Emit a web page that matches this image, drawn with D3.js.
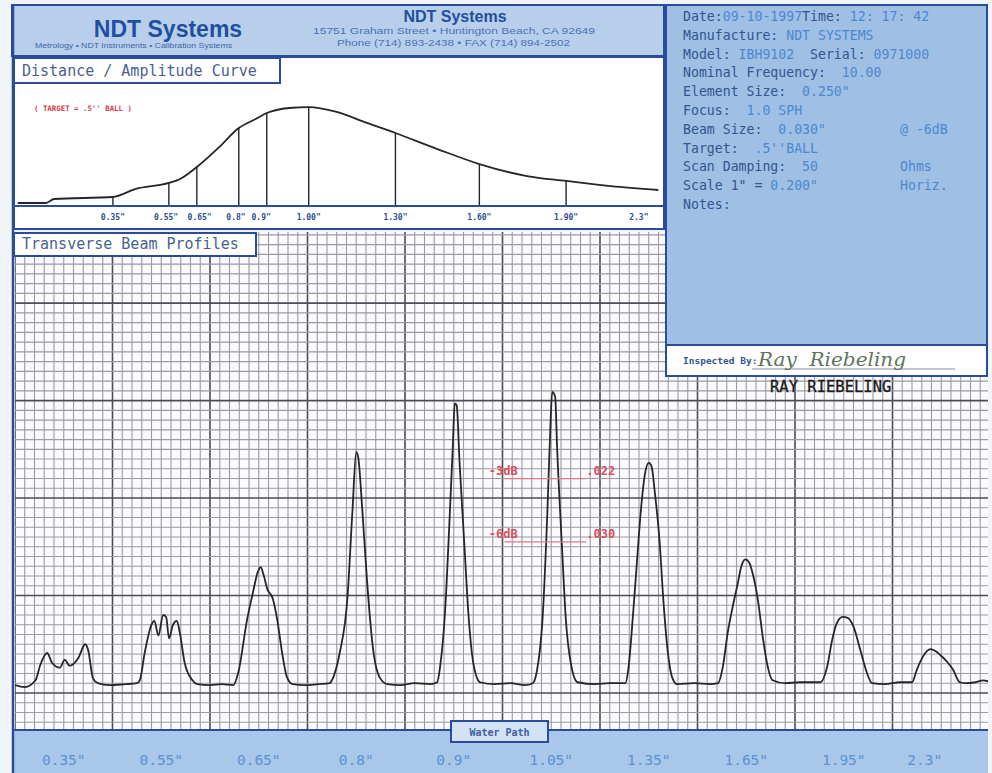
<!DOCTYPE html>
<html>
<head>
<meta charset="utf-8">
<script src="https://cdn.jsdelivr.net/npm/d3@7"></script>
<style>
  body { margin: 0; background: #f1f4f8; }
  svg { display: block; }
  text { white-space: pre; }
</style>
</head>
<body>
<svg id="chart"></svg>
<script>
// ---- data ----

// distance / amplitude curve: [water path (in), amplitude (%)]
var dacCurve = [[0.01,1.9],[0.11,1.9],[0.14,5.7],[0.35,7.6],[0.43,15.2],[0.55,21],[0.59,24.8],
  [0.65,36.2],[0.73,55.2],[0.80,73.3],[0.86,81.9],[0.90,87.6],[0.98,92.4],[1.05,93.3],[1.15,88.6],
  [1.25,79],[1.36,68.6],[1.51,53.3],[1.66,39],[1.83,27.6],[1.97,22.9],[2.13,18],[2.30,14.3]];
var dacMarkers = [0.35, 0.55, 0.65, 0.80, 0.90, 1.05, 1.36, 1.66, 1.97];
var dacMarkerAmp = [7.6, 21, 36.2, 73.3, 87.6, 93.3, 68.6, 39, 22.9];
var dacLabels = ['0.35"', '0.55"', '0.65"', '0.8"', '0.9"', '1.00"', '1.30"', '1.60"', '1.90"', '2.3"'];
var dacLabelPos = [0.35, 0.54, 0.66, 0.79, 0.88, 1.05, 1.36, 1.66, 1.97, 2.23];

// transverse beam profiles: [scan position (grid div), amplitude (grid div)]
var p035 = [[0,0.8],[1,0.6],[2.1,1.3],[2.6,2.9],[3.3,4.1],[3.8,3.1],[4.6,2.6],[5.1,3.4],[5.6,2.8],
  [6.5,3.6],[7.2,5.0],[7.5,4.4],[8,1.5],[8.5,1.0],[9.7,0.8],[11.3,0.9],[12.5,1.0]];
var p055 = [[12.8,1.3],[13.3,4.1],[14.0,7.0],[14.3,7.4],[14.7,5.9],[15.2,8.0],[15.5,7.8],[15.8,5.6],
  [16.2,7.0],[16.6,7.4],[16.9,6.2],[17.4,3.1],[18.2,1.3],[18.7,0.9],[20,0.8],[21.2,0.9],[22.4,0.8]];
var p065 = [[22.9,2.1],[23.8,7.5],[24.4,10.3],[24.9,12.4],[25.2,12.9],[25.5,12.1],[25.9,10.6],
  [26.4,9.8],[26.9,7.5],[27.4,4.1],[27.9,1.6],[28.5,0.9],[29.7,0.8],[31.1,0.9],[32.3,1.0]];
var p080 = [[32.5,1.3],[33.3,4.1],[34.1,9.8],[34.6,18.5],[35,24.7],[35.2,24.2],[35.6,19.1],[36.1,11.6],
  [36.7,4.7],[37.4,1.6],[38.2,0.9],[39.5,0.8],[41,1.0],[42.6,0.9],[43.3,1.1]];
var p090 = [[43.6,2.7],[44.1,8.2],[44.6,18.5],[44.9,25.2],[45.1,29.7],[45.3,29.5],[45.6,23.6],
  [46.1,15.0],[46.5,8.2],[47,3.1],[47.7,1.1],[49.2,0.9],[50.8,1.0],[52.3,0.8],[53.1,1.0]];
var p105 = [[53.5,2.1],[54.1,7.5],[54.6,18.5],[54.9,27.0],[55.1,30.9],[55.4,30.4],[55.6,25.2],
  [56.1,15.0],[56.5,7.5],[57,3.1],[57.7,1.1],[59.5,0.9],[61,1.0],[62.6,1.0]];
var p135 = [[62.9,2.4],[63.4,8.2],[63.8,13.6],[64.2,18.8],[64.6,22.4],[65,23.6],[65.3,23.2],[65.6,20.8],
  [66.1,15.7],[66.5,9.5],[66.9,4.7],[67.4,1.6],[67.9,0.9],[69.7,1.0],[71.3,0.9],[72.1,1.0]];
var p165 = [[72.6,2.7],[73.1,6.2],[73.6,8.8],[74.1,11.1],[74.5,13.0],[74.9,13.7],[75.3,13.4],[75.7,12.1],
  [76.2,9.5],[76.7,5.7],[77.2,2.7],[77.7,1.3],[79,1.0],[80.5,1.1],[82.6,1.1]];
var p195 = [[83.3,2.7],[83.8,5.4],[84.3,7.2],[84.9,7.8],[85.4,7.7],[86,6.8],[86.7,4.4],[87.4,2.0],
  [87.9,1.0],[89.2,0.9],[90.8,1.1],[92,1.1]];
var p230 = [[92.5,2.4],[93.1,3.7],[93.9,4.5],[94.4,4.3],[94.9,3.9],[95.6,3.2],[96.2,2.4],[96.9,1.1],
  [97.6,1.0],[98.5,1.1],[99.3,1.3],[99.8,1.2]];

var waterPaths = ['0.35"', '0.55"', '0.65"', '0.8"', '0.9"', '1.05"', '1.35"', '1.65"', '1.95"', '2.3"'];
var waterPathPos = [5, 15, 25, 35, 45, 55, 65, 75, 85, 93.3];

// -3dB / -6dB width marks on the 1.05" profile
var widthLevels = [22.0, 15.5];
var widthLevelNames = ["-3dB", "-6dB"];
var widthValues = [".022", ".030"];

// report header block
var infoLabels = ["Date:", "Manufacture: ", "Model: ", "Nominal Frequency: ", "Element Size: ", "Focus: ",
  "Beam Size: ", "Target: ", "Scan Damping: ", "Scale 1\" = ", "Notes:"];
var infoValues = ["09-10-1997", "NDT SYSTEMS", "IBH9102", " 10.00", " 0.250\"", " 1.0 SPH",
  " 0.030\"", " .5''BALL", " 50", "0.200\"", ""];
var infoMidLabels = ["Time:", "", "  Serial: ", "", "", "", "", "", "", "", ""];
var infoMidValues = [" 12: 17: 42", "", "0971000", "", "", "", "", "", "", "", ""];
var infoUnits = ["", "", "", "", "", "", "@ -6dB", "", "Ohms", "Horiz.", ""];

// ---- drawing ----
var W = 992, H = 773,
    blue = "#2b4c9c",
    mono = "'DejaVu Sans Mono', monospace",
    sans = "'Liberation Sans', Arial, sans-serif";

var svg = d3.select("#chart").attr("width", W).attr("height", H);

// beam profile chart paper
var gx = d3.scaleLinear().domain([0, 100]).range([15, 990]),
    gy = d3.scaleLinear().domain([-3.8, 47.3]).range([730, 232]);

svg.append("clipPath").attr("id", "paper")
  .append("rect").attr("x", 15).attr("y", 232).attr("width", 973).attr("height", 498);

var paper = svg.append("g").attr("clip-path", "url(#paper)");
paper.append("rect").attr("x", 15).attr("y", 232).attr("width", 973).attr("height", 498).attr("fill", "#fbfbfd");

var minorX = d3.range(0, 101), minorY = d3.range(-3, 48);
paper.selectAll(".vminor").data(minorX).enter().append("line")
    .attr("x1", gx).attr("x2", gx).attr("y1", 232).attr("y2", 730)
    .attr("stroke", function(d) { return d % 10 === 0 ? "#4c4d57" : "#9a9ba3"; })
    .attr("stroke-width", function(d) { return d % 10 === 0 ? 1.6 : 1.1; });
paper.selectAll(".hminor").data(minorY).enter().append("line")
    .attr("y1", gy).attr("y2", gy).attr("x1", 15).attr("x2", 990)
    .attr("stroke", function(d) { return d % 10 === 0 ? "#4c4d57" : "#9a9ba3"; })
    .attr("stroke-width", function(d) { return d % 10 === 0 ? 1.6 : 1.1; });

var trace = [].concat(p035, p055, p065, p080, p090, p105, p135, p165, p195, p230);
var traceLine = d3.line()
    .x(function(d) { return gx(d[0]); })
    .y(function(d) { return gy(d[1]); })
    .curve(d3.curveMonotoneX);
paper.append("path").datum(trace)
    .attr("d", traceLine)
    .attr("fill", "none").attr("stroke", "#262626").attr("stroke-width", 1.8)
    .attr("stroke-linejoin", "round");

// red beam-width marks
widthLevels.forEach(function(lv, i) {
  var y = gy(lv);
  paper.append("line")
      .attr("x1", gx(50.2)).attr("x2", gx(58.6)).attr("y1", y).attr("y2", y)
      .attr("stroke", "#e07a85").attr("stroke-width", 1.3);
  paper.append("text").attr("x", gx(48.6)).attr("y", y - 4)
      .attr("font-family", mono).attr("font-size", 12).attr("font-weight", "bold").attr("fill", "#d9505e")
      .text(widthLevelNames[i]);
  paper.append("text").attr("x", gx(58.6)).attr("y", y - 4)
      .attr("font-family", mono).attr("font-size", 12).attr("font-weight", "bold").attr("fill", "#d9505e")
      .text(widthValues[i]);
});

// bottom water-path band
svg.append("rect").attr("x", 12).attr("y", 730).attr("width", 976).attr("height", 43).attr("fill", "#a9c7e9");
svg.append("line").attr("x1", 12).attr("x2", 988).attr("y1", 730).attr("y2", 730)
    .attr("stroke", blue).attr("stroke-width", 2);
svg.selectAll(".wp").data(waterPaths).enter().append("text")
    .attr("x", function(d, i) { return gx(waterPathPos[i]); })
    .attr("y", 765)
    .attr("text-anchor", "middle")
    .attr("font-family", mono).attr("font-size", 14.5).attr("fill", "#5a92d3")
    .text(function(d) { return d; });
svg.append("rect").attr("x", 451).attr("y", 721).attr("width", 97).attr("height", 21)
    .attr("fill", "#d3e3f4").attr("stroke", blue).attr("stroke-width", 2);
svg.append("text").attr("x", 499.5).attr("y", 735.5).attr("text-anchor", "middle")
    .attr("font-family", mono).attr("font-size", 10).attr("font-weight", "bold").attr("fill", "#3d60a6")
    .text("Water Path");

// header band
svg.append("rect").attr("x", 12).attr("y", 5).attr("width", 652).attr("height", 51)
    .attr("fill", "#b7cfeb").attr("stroke", blue).attr("stroke-width", 2);
svg.append("text").attr("x", 168).attr("y", 37).attr("text-anchor", "middle")
    .attr("font-family", sans).attr("font-weight", "bold")
    .attr("font-size", 23).attr("fill", "#1f4f9f").text("NDT Systems");
svg.append("text").attr("x", 35).attr("y", 48)
    .attr("font-family", sans).attr("font-size", 6.8)
    .attr("textLength", 197).attr("lengthAdjust", "spacingAndGlyphs")
    .attr("fill", "#3f66ad").text("Metrology • NDT Instruments • Calibration Systems");
svg.append("text").attr("x", 455).attr("y", 22).attr("text-anchor", "middle")
    .attr("font-family", sans).attr("font-weight", "bold")
    .attr("font-size", 16).attr("fill", "#1f4f9f").text("NDT Systems");
svg.append("text").attr("x", 313).attr("y", 34)
    .attr("font-family", sans).attr("font-size", 8.5)
    .attr("textLength", 282).attr("lengthAdjust", "spacingAndGlyphs")
    .attr("fill", "#4b72b6").text("15751 Graham Street • Huntington Beach, CA 92649");
svg.append("text").attr("x", 337).attr("y", 46)
    .attr("font-family", sans).attr("font-size", 8.5)
    .attr("textLength", 233).attr("lengthAdjust", "spacingAndGlyphs")
    .attr("fill", "#4b72b6").text("Phone (714) 893-2438 • FAX (714) 894-2502");

// distance / amplitude curve panel
var dacX = d3.scaleLinear().domain([0, 2.32]).range([15, 664]),
    dacY = d3.scaleLinear().domain([0, 100]).range([205, 100]);

svg.append("rect").attr("x", 14).attr("y", 57).attr("width", 650).attr("height", 172)
    .attr("fill", "#ffffff").attr("stroke", blue).attr("stroke-width", 2);
svg.append("line").attr("x1", 14).attr("x2", 664).attr("y1", dacY(0) + 1).attr("y2", dacY(0) + 1)
    .attr("stroke", blue).attr("stroke-width", 2);

svg.append("path").datum(dacCurve)
    .attr("d", d3.line()
      .x(function(d) { return dacX(d[0]); })
      .y(function(d) { return dacY(d[1]); })
      .curve(d3.curveMonotoneX))
    .attr("fill", "none").attr("stroke", "#262626").attr("stroke-width", 1.8);

svg.selectAll(".dacmark").data(dacMarkers).enter().append("line")
    .attr("x1", dacX).attr("x2", dacX)
    .attr("y1", function(d, i) { return dacY(dacMarkerAmp[i]); })
    .attr("y2", dacY(0))
    .attr("stroke", "#262626").attr("stroke-width", 1.4);

svg.selectAll(".daclabel").data(dacLabels).enter().append("text")
    .attr("x", function(d, i) { return dacX(dacLabelPos[i]); })
    .attr("y", 220)
    .attr("text-anchor", "middle")
    .attr("font-family", mono).attr("font-size", 8).attr("font-weight", "bold").attr("fill", "#2d4f93")
    .text(function(d) { return d; });

svg.append("text").attr("x", 34).attr("y", 111)
    .attr("font-family", mono).attr("font-size", 7.4).attr("font-weight", "bold").attr("fill", "#d2404e")
    .text("( TARGET = .5'' BALL )");

// section title boxes
function titleBox(x, y, w, h, label) {
  svg.append("rect").attr("x", x).attr("y", y).attr("width", w).attr("height", h)
      .attr("fill", "#ffffff").attr("stroke", blue).attr("stroke-width", 2);
  svg.append("text").attr("x", x + 8).attr("y", y + h - 7)
      .attr("font-family", mono).attr("font-size", 15).attr("fill", "#4a5f93").text(label);
}
titleBox(14, 58, 266, 25, "Distance / Amplitude Curve");
titleBox(14, 233, 242, 23, "Transverse Beam Profiles");

// outer left border of the form
svg.append("line").attr("x1", 13).attr("x2", 13).attr("y1", 5).attr("y2", 773)
    .attr("stroke", blue).attr("stroke-width", 2.5);

// right info panel
svg.append("rect").attr("x", 666).attr("y", 5).attr("width", 321).attr("height", 340)
    .attr("fill", "#9fbfe4").attr("stroke", blue).attr("stroke-width", 2);

var rows = svg.append("g").attr("font-family", mono).attr("font-size", 13.2);
infoLabels.forEach(function(lab, i) {
  var y = 21 + i * 18.8;
  var t = rows.append("text").attr("x", 683).attr("y", y);
  t.append("tspan").attr("fill", "#34558f").text(lab);
  t.append("tspan").attr("fill", "#4c88d0").text(infoValues[i]);
  if (infoMidLabels[i]) t.append("tspan").attr("fill", "#34558f").text(infoMidLabels[i]);
  if (infoMidValues[i]) t.append("tspan").attr("fill", "#4c88d0").text(infoMidValues[i]);
  if (infoUnits[i]) {
    rows.append("text").attr("x", 900).attr("y", y).attr("fill", "#4c88d0").text(infoUnits[i]);
  }
});

// inspected-by strip
svg.append("rect").attr("x", 666).attr("y", 345).attr("width", 321).attr("height", 31)
    .attr("fill", "#ffffff").attr("stroke", blue).attr("stroke-width", 2);
svg.append("text").attr("x", 683).attr("y", 364)
    .attr("font-family", mono).attr("font-size", 9.5).attr("font-weight", "bold").attr("fill", "#34558f")
    .text("Inspected By:");
svg.append("line").attr("x1", 752).attr("x2", 955).attr("y1", 369).attr("y2", 369)
    .attr("stroke", "#7d8ea3").attr("stroke-width", 1);
svg.append("text").attr("x", 758).attr("y", 366)
    .attr("font-family", "'DejaVu Serif', serif").attr("font-style", "italic").attr("font-size", 19)
    .attr("textLength", 148).attr("lengthAdjust", "spacingAndGlyphs")
    .attr("fill", "#5f745f").text("Ray  Riebeling");
svg.append("text").attr("x", 770).attr("y", 392)
    .attr("font-family", mono).attr("font-size", 15.5).attr("fill", "#1c1c1c")
    .attr("stroke", "#1c1c1c").attr("stroke-width", 0.3)
    .text("RAY RIEBELING");
</script>
</body>
</html>
